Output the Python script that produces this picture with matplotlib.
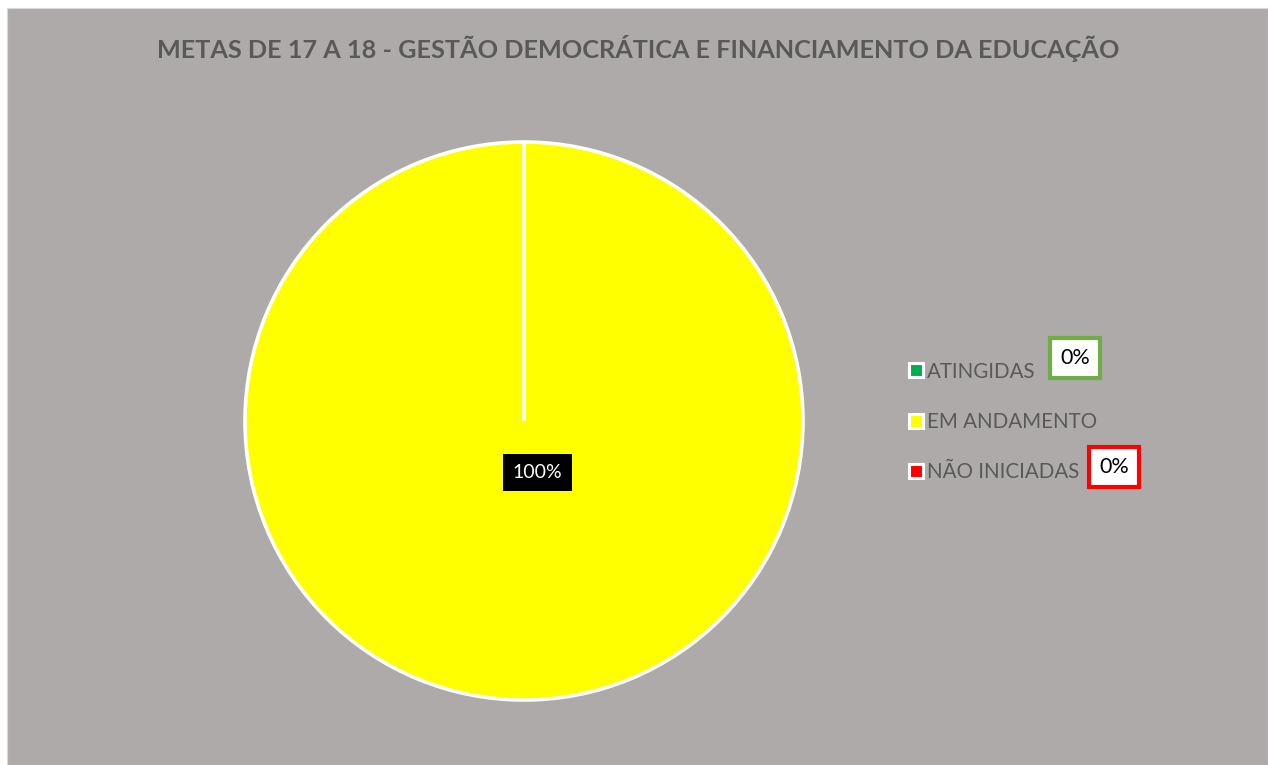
import matplotlib.pyplot as plt
from matplotlib.lines import Line2D
from matplotlib.patches import Rectangle

plt.rcParams['font.family'] = ['Lato', 'DejaVu Sans']

categories = ['ATINGIDAS', 'EM ANDAMENTO', 'NÃO INICIADAS']
values = [0, 100, 0]
colors = ['#00B050', '#FFFF00', '#FF0000']
label_edge = ['#70AD47', None, '#FF0000']
title = 'METAS DE 17 A 18 - GESTÃO DEMOCRÁTICA E FINANCIAMENTO DA EDUCAÇÃO'

W, H = 1268, 765
bg = '#AEAAAA'
txt = '#595959'

fig = plt.figure(figsize=(W / 100, H / 100), dpi=100, facecolor='white')
fig.patches.append(Rectangle((7 / W, 0), 1 - 7 / W, 1 - 8 / H, transform=fig.transFigure,
                             facecolor=bg, edgecolor='#D9D9D9', linewidth=0.8, zorder=-5))

fig.text(638 / W, 1 - 48 / H, title, ha='center', va='center',
         fontsize=18.15, fontweight='bold', color=txt)

# pie
cx, cy, r = 524, 421, 279
ax = fig.add_axes([(cx - r) / W, (H - cy - r) / H, 2 * r / W, 2 * r / H])
ax.set_facecolor('none')
ax.set_zorder(2)
total = sum(values)
wedges, _, autotexts = ax.pie(
    values, colors=colors, startangle=90, counterclock=False,
    autopct=lambda p: f'{p:.0f}%' if p > 0 else '', pctdistance=0.185,
    wedgeprops=dict(edgecolor='white', linewidth=2.6),
    textprops=dict(color='white', fontsize=14))
for t in autotexts:
    if t.get_text():
        t.set_bbox(dict(facecolor='black', edgecolor='none', pad=7))
        x, y = t.get_position()
        t.set_position((x + 0.047, y))
ax.set_xlim(-1, 1)
ax.set_ylim(-1, 1)
ax.set_aspect('equal')
ax.axis('off')

# legend
handles = [Line2D([], [], linestyle='none', marker='s', markersize=9.5,
                  markerfacecolor=c, markeredgecolor='white', markeredgewidth=2.2)
           for c in colors]
leg = fig.legend(handles, categories, loc='center left',
                 bbox_to_anchor=(890 / W, 1 - 422 / H), frameon=False,
                 fontsize=14.8, labelcolor=txt, labelspacing=1.48,
                 handlelength=0.7, handletextpad=0.22)
leg.set_zorder(3)

# value labels beside legend entries
label_pos = {0: (1075, 358), 2: (1114, 467)}
for i, v in enumerate(values):
    if i in label_pos and v == 0:
        lx, ly = label_pos[i]
        fig.text(lx / W, 1 - ly / H, f'{v / total * 100:.0f}%', ha='center', va='center',
                 fontsize=15.5, color='black', zorder=4,
                 bbox=dict(facecolor='white', edgecolor=label_edge[i], linewidth=3, pad=7))

fig.savefig('out.png', dpi=100, facecolor=fig.get_facecolor())
